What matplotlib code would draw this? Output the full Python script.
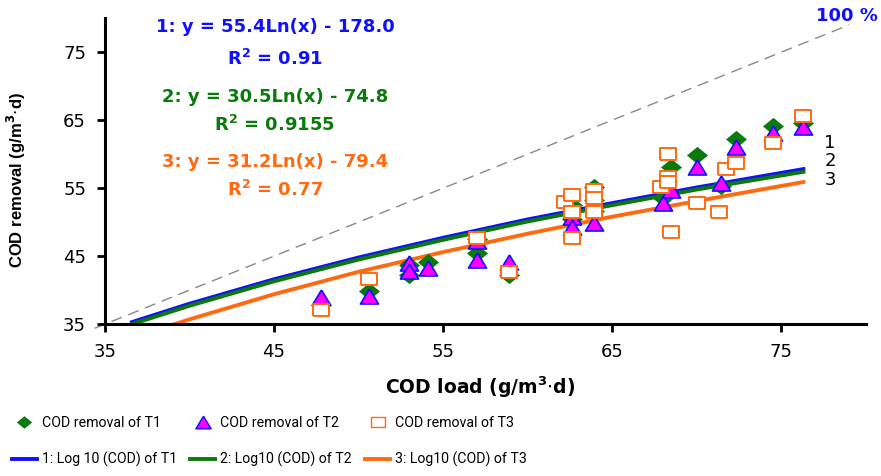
import numpy as np
import matplotlib.pyplot as plt
from matplotlib.lines import Line2D

plt.rcParams['font.family'] = ['Liberation Sans', 'DejaVu Sans']

# Observed points (COD load, COD removal), g/m3.d
t1_x = [47.8, 50.6, 53.0, 53.0, 54.1, 57.0, 57.0, 58.9, 62.6, 62.6, 63.9, 63.9, 63.9,
        68.0, 68.5, 70.0, 71.4, 72.3, 74.5, 76.3]
t1_y = [37.8, 39.9, 43.7, 42.2, 44.1, 45.4, 47.5, 42.3, 50.5, 52.5, 55.2, 53.2, 51.6,
        53.6, 58.1, 59.9, 55.3, 62.2, 64.1, 64.6]

t2_x = [47.8, 50.6, 53.0, 53.0, 54.1, 57.0, 57.0, 58.9, 62.6, 62.6, 63.9, 68.0, 68.5,
        70.0, 71.4, 72.3, 74.5, 76.3]
t2_y = [39.0, 39.1, 44.0, 42.8, 43.2, 47.2, 44.4, 44.1, 50.7, 49.3, 49.9, 52.8, 54.7,
        58.1, 55.7, 61.0, 63.1, 64.0]

t3_x = [47.8, 50.6, 57.0, 58.9, 62.2, 62.6, 62.6, 62.6, 63.9, 63.9, 63.9, 67.9, 68.3,
        68.3, 68.3, 68.5, 70.0, 71.3, 71.7, 72.3, 74.5, 76.3]
t3_y = [37.1, 41.6, 47.6, 42.6, 52.9, 54.0, 51.5, 47.6, 54.7, 53.5, 51.5, 55.1, 60.0,
        56.6, 55.9, 48.6, 52.8, 51.5, 57.8, 58.7, 61.6, 65.6]

# Log trend lines
fit12_x = [36.6, 40, 45, 50, 55, 60, 65, 70, 76.3]
fit1_y = [35.3, 38.0, 41.6, 44.8, 47.7, 50.4, 52.8, 55.1, 57.8]
fit2_y = [35.0, 37.7, 41.3, 44.5, 47.4, 50.1, 52.5, 54.8, 57.4]
fit3_x = [39, 40, 45, 50, 55, 60, 65, 70, 76.3]
fit3_y = [34.9, 35.7, 39.4, 42.7, 45.6, 48.3, 50.8, 53.1, 55.9]

diag = [34.4, 79.0]

eq_lines = [("1: y = 55.4Ln(x) - 178.0", "R$^{\\mathbf{2}}$ = 0.91"),
            ("2: y = 30.5Ln(x) - 74.8", "R$^{\\mathbf{2}}$ = 0.9155"),
            ("3: y = 31.2Ln(x) - 79.4", "R$^{\\mathbf{2}}$ = 0.77")]

BLUE = '#1010ff'
GREEN = '#0a7a0a'
ORANGE = '#ff6a10'
WIDE = ['DejaVu Sans']
NARROW = ['Roboto', 'Liberation Sans', 'DejaVu Sans']

# slightly wide markers, like in the original figure
DIAMOND = [(0, -0.82), (1, 0), (0, 0.82), (-1, 0), (0, -0.82)]
TRIANGLE = [(0, 0.83), (-1, -0.83), (1, -0.83), (0, 0.83)]
RECT = [(-1, -0.76), (1, -0.76), (1, 0.76), (-1, 0.76), (-1, -0.76)]

fig = plt.figure(figsize=(8.81, 4.76), dpi=100)
ax = fig.add_axes([0.119, 0.319, 0.864, 0.643])

ax.plot(diag, diag, color='#888888', lw=1, dashes=(8, 5), clip_on=False, zorder=1)

ax.plot(fit12_x, fit1_y, color=BLUE, lw=2.8, zorder=2)
ax.plot(fit12_x, fit2_y, color=GREEN, lw=2.8, zorder=2)
ax.plot(fit3_x, fit3_y, color=ORANGE, lw=2.8, zorder=2)

ax.scatter(t1_x, t1_y, marker=DIAMOND, s=230, color=GREEN, linewidth=0, zorder=3)
ax.scatter(t2_x, t2_y, marker=TRIANGLE, s=170, facecolor='#ff00ff', edgecolor=BLUE,
           linewidth=1.2, zorder=4)
ax.scatter(t3_x, t3_y, marker=RECT, s=125, facecolor='white', edgecolor=ORANGE,
           linewidth=1.4, zorder=5)

ax.set_xlim(35, 80)
ax.set_ylim(35, 80)
ax.set_xticks([35, 45, 55, 65, 75])
ax.set_yticks([35, 45, 55, 65, 75])
for s in ['top', 'right']:
    ax.spines[s].set_visible(False)
for s in ['left', 'bottom']:
    ax.spines[s].set_linewidth(2.2)
ax.tick_params(direction='out', length=5.5, width=2, labelsize=13, pad=8)
for t in ax.get_xticklabels() + ax.get_yticklabels():
    t.set_family(WIDE)

ax.set_xlabel('COD load (g/m$^{\\mathbf{3}}$$\\cdot$d)', fontsize=13.5, fontweight='bold',
              family=WIDE)
ax.set_ylabel('COD removal (g/m$^{\\mathbf{3}}$$\\cdot$d)', fontsize=12, fontweight='bold',
              family=['Liberation Sans'])
ax.xaxis.set_label_coords(0.493, -0.165)
ax.yaxis.set_label_coords(-0.101, 0.47)

# equations
eq_colors = [BLUE, GREEN, ORANGE]
eq_y = [(27, 59), (97, 125), (162, 190)]
for (l1, l2), c, (y1, y2) in zip(eq_lines, eq_colors, eq_y):
    fig.text(275 / 881, 1 - y1 / 476, l1, color=c, fontsize=13, fontweight='bold',
             ha='center', va='center', family=WIDE)
    fig.text(275 / 881, 1 - y2 / 476, l2, color=c, fontsize=13, fontweight='bold',
             ha='center', va='center', family=WIDE)

fig.text(847 / 881, 1 - 16 / 476, '100 %', color=BLUE, fontsize=13, fontweight='bold',
         ha='center', va='center', family=WIDE)
for lab, yy in zip(['1', '2', '3'], [143, 161, 180]):
    fig.text(830 / 881, 1 - yy / 476, lab, fontsize=13, ha='center', va='center',
             family=WIDE)

handles = [
    Line2D([], [], ls='none', marker=DIAMOND, ms=11, color=GREEN, markeredgewidth=0),
    Line2D([], [], color=BLUE, lw=2.8),
    Line2D([], [], ls='none', marker=TRIANGLE, ms=11, markerfacecolor='#ff00ff',
           markeredgecolor=BLUE),
    Line2D([], [], color=GREEN, lw=2.8),
    Line2D([], [], ls='none', marker=RECT, ms=10, markerfacecolor='white',
           markeredgecolor=ORANGE),
    Line2D([], [], color=ORANGE, lw=2.8),
]
labels = ['COD removal of T1', '1: Log 10 (COD) of T1',
          'COD removal of T2', '2: Log10 (COD) of T2',
          'COD removal of T3', '3: Log10 (COD) of T3']
fig.legend(handles, labels, ncol=3, loc='lower left',
           bbox_to_anchor=(12 / 881, 9 / 476), borderaxespad=0, borderpad=0,
           frameon=False, prop={'family': NARROW, 'size': 10.2},
           handlelength=1.75, handletextpad=0.36, columnspacing=0.95, labelspacing=1.5)

fig.savefig('out.png', dpi=100)
